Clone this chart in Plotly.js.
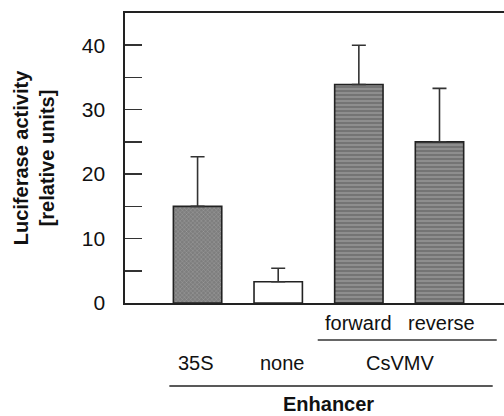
<!DOCTYPE html>
<html>
<head>
<meta charset="utf-8">
<script src="https://cdn.plot.ly/plotly-3.0.1.min.js"></script>
<style>html,body{margin:0;padding:0;background:#fff;}#chart{width:504px;height:416px;}</style>
</head>
<body>
<div id="chart"></div>
<script>
const categories = ['35S', 'none', 'forward', 'reverse'];
const values = [15.0, 3.3, 33.9, 25.0];
const errorsUp = [7.7, 2.1, 6.1, 8.3];
const yTickVals = [0, 10, 20, 30, 40];
const yTickText = ['0', '10', '20', '30', '40'];

const FONT = 'Liberation Sans, Arial, sans-serif';

const trace = {
  type: 'bar',
  x: categories,
  y: values,
  width: 0.6,
  marker: {
    color: ['#7e7e7e', '#ffffff', '#8e8e8e', '#8e8e8e'],
    line: {color: '#222222', width: 1.6},
    pattern: {
      shape: ['x', '', '-', '-'],
      size: [3, 4, 4, 4],
      solidity: [0.15, 0.1, 0.35, 0.35],
      fgcolor: ['#6e6e6e', '#ffffff', '#6c6c6c', '#6c6c6c'],
      fillmode: 'overlay'
    }
  },
  error_y: {
    type: 'data', symmetric: false, array: errorsUp, arrayminus: [0, 0, 0, 0],
    color: '#333333', thickness: 1.6, width: 7
  },
  hoverinfo: 'skip'
};

const py = p => (303 - p) / 290;

const layout = {
  width: 504, height: 416,
  margin: {l: 125, r: 0, t: 13, b: 113},
  paper_bgcolor: '#ffffff', plot_bgcolor: '#ffffff',
  showlegend: false,
  font: {family: FONT, size: 20, color: '#111111'},
  xaxis: {
    type: 'category', range: [-0.9, 3.8],
    showticklabels: false, ticks: '', showgrid: false, zeroline: false,
    showline: true, linecolor: '#222222', linewidth: 1.6, mirror: true
  },
  yaxis: {
    range: [0, 45], tickvals: yTickVals, ticktext: yTickText,
    ticks: 'inside', ticklen: 17, tickwidth: 1.6, tickcolor: '#333333',
    ticklabelstandoff: 14,
    minor: {dtick: 5, ticks: 'inside', ticklen: 17, tickwidth: 1.6, tickcolor: '#333333', showgrid: false},
    showgrid: false, zeroline: false,
    showline: true, linecolor: '#222222', linewidth: 1.6,
    tickfont: {family: FONT, size: 21, color: '#111111'},
    title: {text: '<b>Luciferase activity<br>[relative units]</b>', standoff: 22,
            font: {family: FONT, size: 20, color: '#111111'}}
  },
  shapes: [
    {type: 'line', xref: 'x', yref: 'paper', x0: 1.49, x1: 3.71, y0: py(340), y1: py(340),
     line: {color: '#333333', width: 1.6}},
    {type: 'line', xref: 'x', yref: 'paper', x0: -0.35, x1: 3.66, y0: py(386), y1: py(386),
     line: {color: '#222222', width: 1.6}}
  ],
  annotations: [
    {text: 'forward', x: 2.0, y: py(323)},
    {text: 'reverse', x: 3.03, y: py(323)},
    {text: '35S', x: -0.02, y: py(363)},
    {text: 'none', x: 1.05, y: py(363)},
    {text: 'CsVMV', x: 2.51, y: py(363)},
    {text: '<b>Enhancer</b>', x: 1.62, y: py(404)}
  ].map(a => Object.assign({xref: 'x', yref: 'paper', showarrow: false,
    xanchor: 'center', yanchor: 'middle', font: {family: FONT, size: 20, color: '#111111'}}, a))
};

Plotly.newPlot('chart', [trace], layout, {staticPlot: true, displayModeBar: false});
</script>
</body>
</html>
